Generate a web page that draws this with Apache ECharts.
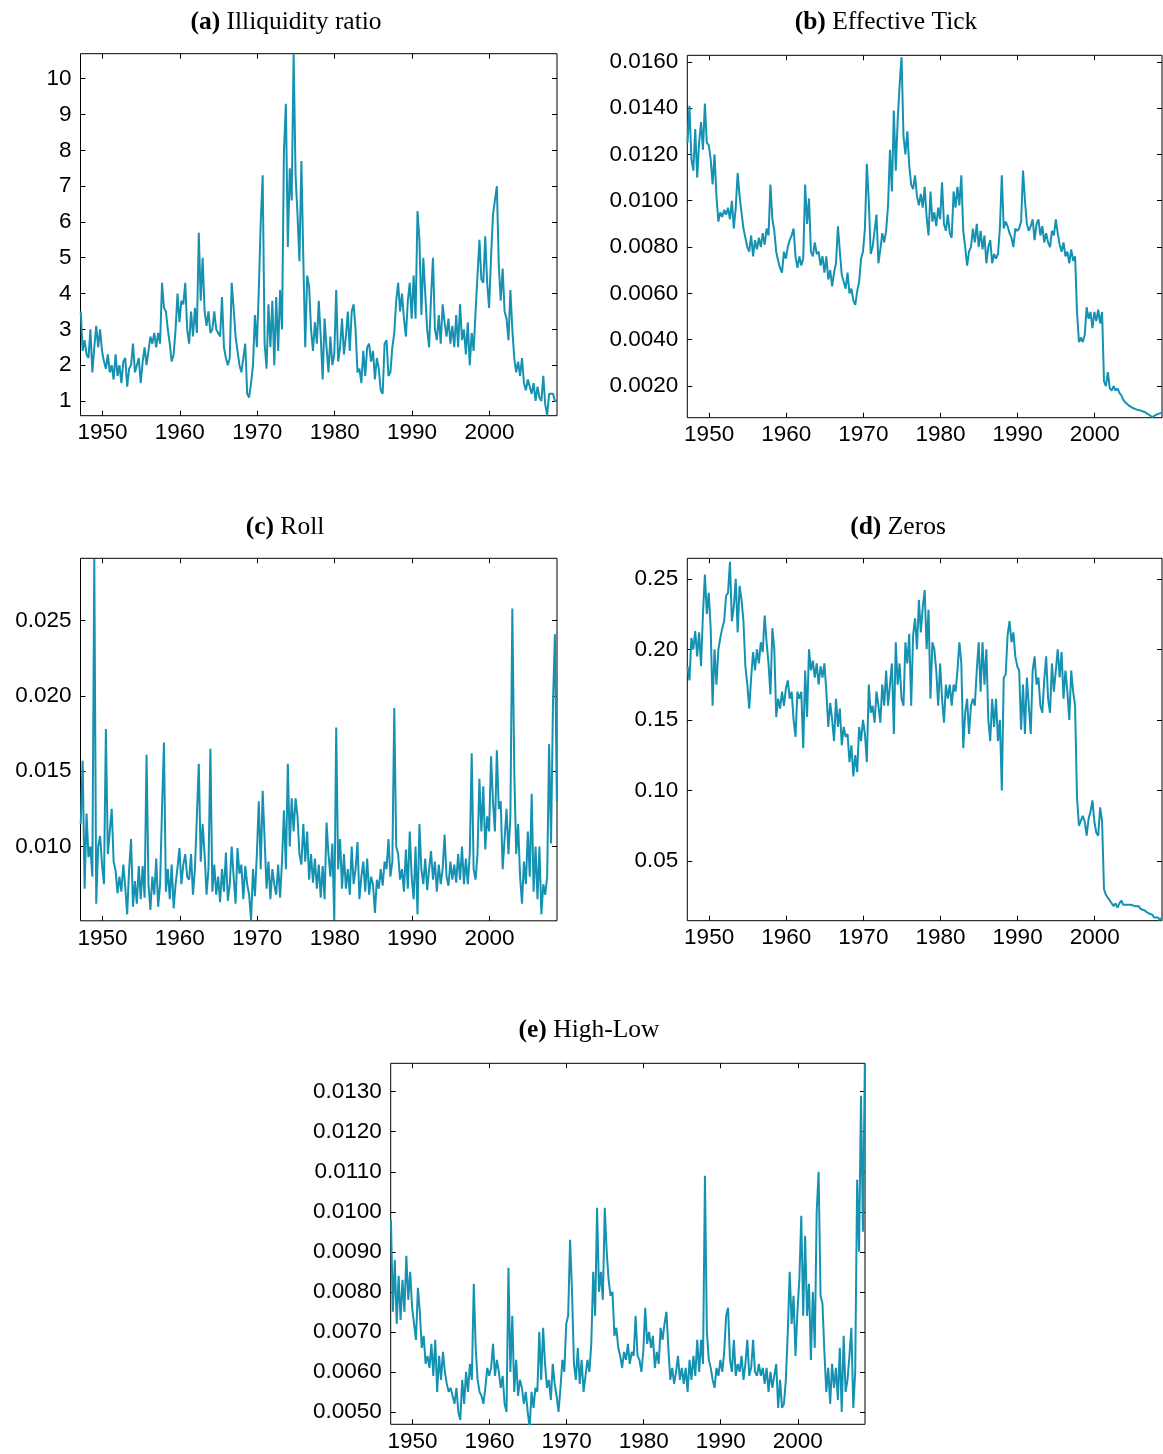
<!DOCTYPE html>
<html>
<head>
<meta charset="utf-8">
<script src="https://cdn.jsdelivr.net/npm/echarts@6/dist/echarts.min.js"></script>
<style>
html,body{margin:0;padding:0;background:#fff;}
#chart{width:1163px;height:1454px;}
</style>
</head>
<body>
<div id="chart"></div>
<script>
// Quarterly readings, first point at 1947.2, step 0.25 year (last 2008.7)
const START = 1947.2;
const STEP = 0.25;
const X_MIN = 1947.17;
const X_MAX = 2008.72;
const xTicks = [1950, 1960, 1970, 1980, 1990, 2000];

const titles = ['(a)|Illiquidity ratio', '(b)|Effective Tick', '(c)|Roll', '(d)|Zeros', '(e)|High-Low'];

const illiq = [
3.5,2.4,2.7,2.3, 2.2,3.0,1.8,2.5, 3.1,2.5,3.0,2.4, 2.1,1.9,2.3,1.8, 2.0,1.6,2.3,1.7,
2.0,1.5,2.1,2.2, 1.4,1.9,2.0,2.6, 1.8,2.0,2.2,1.5, 2.1,2.5,2.0,2.4, 2.8,2.6,2.9,2.5,
2.9,2.6,4.3,3.6, 3.5,3.0,2.6,2.1, 2.3,3.0,4.0,3.2, 3.8,3.7,4.3,3.0, 2.6,3.5,2.8,3.6,
2.9,5.7,3.8,5.0, 3.5,3.1,3.5,2.9, 3.0,3.5,3.0,2.9, 2.8,3.9,2.5,2.2, 2.0,2.2,4.3,3.6,
2.8,2.4,2.0,1.8, 2.2,2.6,1.2,1.1, 1.5,2.0,3.4,2.5, 4.1,6.0,7.3,2.6, 1.9,3.7,2.5,3.8,
2.0,3.9,2.4,4.1, 3.0,8.0,9.3,5.3, 7.5,6.6,10.7,7.3, 6.2,4.9,7.7,5.0, 2.5,4.5,4.2,3.0,
2.4,3.2,2.6,3.8, 2.8,1.6,3.3,2.5, 1.8,2.8,2.0,2.3, 4.1,2.1,2.5,3.3, 2.3,2.8,3.5,2.4,
3.5,3.7,3.0,1.8, 1.9,1.5,2.4,1.7, 2.5,2.6,2.1,2.4, 1.6,2.2,1.9,1.3, 1.2,2.6,2.7,1.7,
1.8,2.5,2.9,3.8, 4.3,3.5,4.0,3.3, 2.8,3.8,4.3,3.3, 4.5,3.3,6.3,5.5, 3.4,5.0,4.0,3.0,
2.5,3.9,5.0,3.0, 2.7,3.4,2.6,3.7, 3.2,2.8,3.3,2.6, 3.1,2.5,3.4,2.5, 3.7,2.7,3.0,2.3,
3.2,2.0,2.9,2.4, 3.5,4.5,5.5,4.4, 4.3,5.6,4.3,3.6, 5.0,6.2,6.6,7.0, 4.8,3.8,4.7,3.5,
3.3,2.7,4.1,3.0, 2.2,1.8,2.1,1.7, 2.2,1.5,1.3,1.6, 1.6,1.2,1.5,1.0, 1.4,1.1,1.0,1.7,
0.9,0.6,1.2,1.2, 1.2,1.0,1.0
];

const effTick = [
0.0125,0.0141,0.0118,0.0113, 0.0131,0.0110,0.0125,0.0134, 0.0122,0.0142,0.0125,0.0124,
0.0118,0.0107,0.0120,0.0102, 0.0091,0.0095,0.0093,0.0096, 0.0094,0.0097,0.0092,0.0100,
0.0088,0.0097,0.0112,0.0102, 0.0095,0.0088,0.0084,0.0080, 0.0078,0.0085,0.0076,0.0083,
0.0079,0.0084,0.0080,0.0086, 0.0081,0.0088,0.0085,0.0107, 0.0092,0.0087,0.0078,0.0074,
0.0071,0.0069,0.0078,0.0075, 0.0080,0.0083,0.0085,0.0088, 0.0076,0.0071,0.0076,0.0072,
0.0075,0.0107,0.0090,0.0101, 0.0078,0.0076,0.0082,0.0077, 0.0078,0.0072,0.0076,0.0069,
0.0076,0.0066,0.0070,0.0063, 0.0069,0.0073,0.0089,0.0078, 0.0068,0.0065,0.0062,0.0069,
0.0060,0.0062,0.0057,0.0055, 0.0061,0.0065,0.0075,0.0078, 0.0088,0.0116,0.0100,0.0077,
0.0080,0.0087,0.0094,0.0073, 0.0079,0.0086,0.0082,0.0087, 0.0098,0.0122,0.0104,0.0139,
0.0113,0.0135,0.0150,0.0162, 0.0128,0.0120,0.0130,0.0115, 0.0107,0.0105,0.0111,0.0102,
0.0098,0.0103,0.0097,0.0106, 0.0093,0.0085,0.0104,0.0091, 0.0095,0.0089,0.0097,0.0092,
0.0108,0.0090,0.0087,0.0094, 0.0086,0.0084,0.0104,0.0097, 0.0106,0.0098,0.0111,0.0087,
0.0080,0.0072,0.0078,0.0080, 0.0088,0.0082,0.0090,0.0080, 0.0087,0.0079,0.0085,0.0073,
0.0080,0.0083,0.0073,0.0077, 0.0075,0.0077,0.0088,0.0111, 0.0088,0.0091,0.0089,0.0086,
0.0084,0.0080,0.0088,0.0087, 0.0088,0.0091,0.0113,0.0100, 0.0090,0.0087,0.0089,0.0092,
0.0083,0.0090,0.0092,0.0085, 0.0089,0.0082,0.0086,0.0082, 0.0080,0.0087,0.0085,0.0092,
0.0086,0.0081,0.0078,0.0082, 0.0076,0.0078,0.0073,0.0079, 0.0074,0.0076,0.0052,0.0039,
0.0041,0.0039,0.0042,0.0054, 0.0049,0.0052,0.0045,0.0052, 0.0048,0.0053,0.0047,0.0052,
0.0022,0.0020,0.0026,0.0019, 0.0018,0.0020,0.0018,0.0019, 0.0017,0.0016,0.0014,0.0013,
0.00122,0.00115,0.0011,0.00105, 0.0010,0.00098,0.00096,0.00094, 0.00092,0.00088,0.00083,0.00078,
0.00072,0.00066,0.00068,0.00076, 0.0008,0.00082,0.00085
];

const roll = [
0.0115,0.0157,0.0072,0.0122, 0.0093,0.0100,0.0080,0.0291, 0.0062,0.0100,0.0107,0.0088,
0.0075,0.0178,0.0095,0.0110, 0.0125,0.0090,0.0084,0.0069, 0.0080,0.0070,0.0088,0.0073,
0.0055,0.0085,0.0105,0.0060, 0.0077,0.0062,0.0087,0.0065, 0.0087,0.0066,0.0161,0.0075,
0.0058,0.0080,0.0068,0.0092, 0.0060,0.0075,0.0125,0.0169, 0.0070,0.0085,0.0065,0.0088,
0.0059,0.0075,0.0086,0.0099, 0.0075,0.0088,0.0095,0.0080, 0.0078,0.0095,0.0068,0.0085,
0.0085,0.0155,0.0090,0.0115, 0.0095,0.0068,0.0085,0.0165, 0.0070,0.0088,0.0068,0.0080,
0.0063,0.0085,0.0070,0.0096, 0.0064,0.0075,0.0100,0.0080, 0.0062,0.0099,0.0082,0.0088,
0.0065,0.0087,0.0075,0.0068, 0.0051,0.0085,0.0067,0.0095, 0.0130,0.0085,0.0137,0.0105,
0.0072,0.0090,0.0065,0.0085, 0.0075,0.0068,0.0088,0.0066, 0.0090,0.0124,0.0085,0.0155,
0.0100,0.0132,0.0110,0.0132, 0.0120,0.0095,0.0088,0.0115, 0.0090,0.0110,0.0078,0.0095,
0.0076,0.0092,0.0072,0.0088, 0.0066,0.0087,0.0065,0.0116, 0.0095,0.0080,0.0102,0.0051,
0.0179,0.0085,0.0105,0.0072, 0.0095,0.0072,0.0085,0.0068, 0.0100,0.0075,0.0085,0.0103,
0.0065,0.0080,0.0090,0.0070, 0.0092,0.0068,0.0080,0.0075, 0.0056,0.0078,0.0072,0.0085,
0.0074,0.0090,0.0085,0.0105, 0.0080,0.0090,0.0192,0.0100, 0.0095,0.0078,0.0085,0.0070,
0.0098,0.0072,0.0110,0.0080, 0.0065,0.0100,0.0055,0.0115, 0.0085,0.0075,0.0092,0.0071,
0.0085,0.0097,0.0078,0.0090, 0.0070,0.0088,0.0075,0.0085, 0.0108,0.0080,0.0074,0.0090,
0.0078,0.0088,0.0076,0.0095, 0.0078,0.0100,0.0075,0.0092, 0.0075,0.0095,0.0162,0.0085,
0.0078,0.0095,0.0145,0.0110, 0.0140,0.0098,0.0120,0.0110, 0.0160,0.0130,0.0110,0.0164,
0.0125,0.0130,0.0085,0.0105, 0.0125,0.0095,0.0120,0.0258, 0.0150,0.0095,0.0115,0.0080,
0.0062,0.0090,0.0075,0.0110, 0.0080,0.0135,0.0070,0.0100, 0.0065,0.0100,0.0055,0.0075,
0.0068,0.0080,0.0168,0.0102, 0.0195,0.0241,0.0130
];

const zeros = [
0.188,0.178,0.208,0.200, 0.213,0.195,0.212,0.188, 0.225,0.253,0.225,0.240,
0.215,0.160,0.200,0.175, 0.200,0.208,0.215,0.220, 0.238,0.240,0.262,0.220,
0.230,0.250,0.212,0.245, 0.235,0.220,0.188,0.175, 0.158,0.180,0.198,0.185,
0.200,0.190,0.205,0.198, 0.224,0.205,0.190,0.168, 0.215,0.200,0.152,0.165,
0.158,0.170,0.160,0.172, 0.178,0.165,0.170,0.150, 0.138,0.170,0.165,0.170,
0.130,0.185,0.152,0.200, 0.185,0.192,0.180,0.190, 0.175,0.188,0.180,0.190,
0.170,0.145,0.162,0.150, 0.135,0.165,0.145,0.158, 0.132,0.145,0.138,0.140,
0.120,0.132,0.110,0.125, 0.113,0.145,0.135,0.150, 0.140,0.120,0.175,0.155,
0.160,0.148,0.170,0.160, 0.148,0.175,0.160,0.185, 0.160,0.175,0.190,0.140,
0.205,0.175,0.190,0.165, 0.160,0.205,0.190,0.211, 0.160,0.210,0.222,0.200,
0.235,0.212,0.230,0.242, 0.200,0.228,0.165,0.205, 0.200,0.185,0.160,0.190,
0.165,0.148,0.175,0.165, 0.175,0.160,0.175,0.170, 0.185,0.205,0.190,0.130,
0.155,0.165,0.140,0.160, 0.165,0.160,0.185,0.205, 0.170,0.205,0.175,0.200,
0.150,0.135,0.165,0.145, 0.165,0.135,0.150,0.100, 0.180,0.182,0.210,0.220,
0.205,0.212,0.195,0.188, 0.185,0.143,0.175,0.140, 0.180,0.160,0.140,0.185,
0.195,0.175,0.180,0.160, 0.155,0.178,0.195,0.165, 0.155,0.190,0.170,0.185,
0.200,0.180,0.198,0.165, 0.185,0.170,0.150,0.185, 0.170,0.160,0.095,0.075,
0.075,0.082,0.078,0.068, 0.080,0.085,0.093,0.078, 0.070,0.068,0.088,0.078,
0.030,0.026,0.024,0.022, 0.021,0.018,0.020,0.017, 0.020,0.022,0.019,0.020,
0.019,0.018,0.019,0.018, 0.018,0.017,0.018,0.016, 0.017,0.015,0.016,0.013,
0.014,0.012,0.010,0.009, 0.010,0.008,0.010
];

const highLow = [
0.0098,0.0075,0.0088,0.0072, 0.0084,0.0073,0.0083,0.0075, 0.0089,0.0078,0.0085,0.0076,
0.0072,0.0068,0.0081,0.0075, 0.0066,0.0069,0.0062,0.0064, 0.0061,0.0067,0.0059,0.0068,
0.0055,0.0064,0.0058,0.0065, 0.0060,0.0057,0.0055,0.0056, 0.0054,0.0052,0.0056,0.0050,
0.0048,0.0058,0.0052,0.0060, 0.0055,0.0062,0.0058,0.0082, 0.0066,0.0058,0.0055,0.0054,
0.0052,0.0056,0.0061,0.0059, 0.0061,0.0067,0.0059,0.0063, 0.0060,0.0056,0.0059,0.0052,
0.0050,0.0086,0.0060,0.0074, 0.0055,0.0063,0.0054,0.0058, 0.0056,0.0052,0.0055,0.0050,
0.0046,0.0055,0.0051,0.0056, 0.0055,0.0070,0.0058,0.0071, 0.0062,0.0056,0.0058,0.0053,
0.0062,0.0057,0.0054,0.0050, 0.0056,0.0063,0.0060,0.0072, 0.0074,0.0093,0.0080,0.0062,
0.0058,0.0066,0.0057,0.0063, 0.0055,0.0059,0.0063,0.0060, 0.0067,0.0085,0.0074,0.0101,
0.0080,0.0085,0.0078,0.0101, 0.0090,0.0083,0.0079,0.0080, 0.0069,0.0071,0.0066,0.0064,
0.0061,0.0065,0.0063,0.0067, 0.0062,0.0065,0.0064,0.0074, 0.0064,0.0063,0.0060,0.0065,
0.0076,0.0067,0.0070,0.0066, 0.0069,0.0061,0.0065,0.0062, 0.0071,0.0068,0.0072,0.0075,
0.0066,0.0058,0.0061,0.0057, 0.0060,0.0064,0.0058,0.0061, 0.0057,0.0061,0.0055,0.0063,
0.0058,0.0064,0.0059,0.0068, 0.0060,0.0068,0.0062,0.0109, 0.0070,0.0063,0.0061,0.0058,
0.0056,0.0061,0.0059,0.0063, 0.0060,0.0065,0.0074,0.0076, 0.0063,0.0060,0.0068,0.0059,
0.0062,0.0060,0.0064,0.0058, 0.0062,0.0068,0.0059,0.0061, 0.0068,0.0060,0.0059,0.0062,
0.0059,0.0061,0.0057,0.0061, 0.0055,0.0060,0.0056,0.0059, 0.0062,0.0051,0.0058,0.0051,
0.0052,0.0058,0.0070,0.0085, 0.0072,0.0079,0.0064,0.0075, 0.0083,0.0099,0.0074,0.0094,
0.0074,0.0082,0.0063,0.0080, 0.0066,0.0100,0.0110,0.0079, 0.0077,0.0065,0.0055,0.0061,
0.0052,0.0062,0.0056,0.0061, 0.0053,0.0066,0.0050,0.0069, 0.0055,0.0058,0.0064,0.0071,
0.0051,0.0060,0.0108,0.0090, 0.0129,0.0095,0.0137
];

const yTicksA = [1,2,3,4,5,6,7,8,9,10];
const yTicksB = [0.002,0.004,0.006,0.008,0.010,0.012,0.014,0.016];
const yTicksC = [0.010,0.015,0.020,0.025];
const yTicksD = [0.05,0.10,0.15,0.20,0.25];
const yTicksE = [0.005,0.006,0.007,0.008,0.009,0.010,0.011,0.012,0.013];

const panels = [
  {data: illiq,   yMin: 0.589,   yMax: 10.698,  ticks: yTicksA, dec: 0, rect: [80.5, 53.7, 476.5, 362], title: [286, 22]},
  {data: effTick, yMin: 0.000632,yMax: 0.01628, ticks: yTicksB, dec: 4, rect: [687.3, 55.3, 474.7, 362.4], title: [886, 22]},
  {data: roll,    yMin: 0.00507, yMax: 0.02914, ticks: yTicksC, dec: 3, rect: [80.5, 558.3, 476.5, 362.5], title: [285, 527]},
  {data: zeros,   yMin: 0.0077,  yMax: 0.2645,  ticks: yTicksD, dec: 2, rect: [687.3, 558.3, 474.7, 362.4], title: [898, 527]},
  {data: highLow, yMin: 0.00469, yMax: 0.01371, ticks: yTicksE, dec: 4, rect: [390.7, 1063.3, 474.3, 361], title: [589, 1030]}
];

const LINE_COLOR = '#1592b1';
const LABEL_FONT = {fontFamily: 'Liberation Sans, Arial, sans-serif', fontSize: 22.5, color: '#000'};

const grid = [], xAxis = [], yAxis = [], series = [], graphic = [];
panels.forEach((p, i) => {
  grid.push({left: p.rect[0], top: p.rect[1], width: p.rect[2], height: p.rect[3],
    show: true, borderColor: '#000', borderWidth: 1, backgroundColor: 'transparent', containLabel: false});
  const tickStyle = {inside: true, length: 5, lineStyle: {color: '#000', width: 1}};
  xAxis.push({type: 'value', gridIndex: i, position: 'bottom', min: X_MIN, max: X_MAX,
    axisLine: {show: false}, splitLine: {show: false},
    axisTick: Object.assign({customValues: xTicks}, tickStyle),
    axisLabel: Object.assign({customValues: xTicks, margin: 6, formatter: v => String(Math.round(v))}, LABEL_FONT)});
  xAxis.push({type: 'value', gridIndex: i, position: 'top', min: X_MIN, max: X_MAX,
    axisLine: {show: false}, splitLine: {show: false},
    axisTick: Object.assign({customValues: xTicks}, tickStyle),
    axisLabel: {show: false, customValues: xTicks}});
  yAxis.push({type: 'value', gridIndex: i, position: 'left', min: p.yMin, max: p.yMax,
    axisLine: {show: false}, splitLine: {show: false},
    axisTick: Object.assign({customValues: p.ticks}, tickStyle),
    axisLabel: Object.assign({customValues: p.ticks, margin: 9, formatter: v => v.toFixed(p.dec)}, LABEL_FONT)});
  yAxis.push({type: 'value', gridIndex: i, position: 'right', min: p.yMin, max: p.yMax,
    axisLine: {show: false}, splitLine: {show: false},
    axisTick: Object.assign({customValues: p.ticks}, tickStyle),
    axisLabel: {show: false, customValues: p.ticks}});
  series.push({type: 'line', xAxisIndex: i * 2, yAxisIndex: i * 2,
    data: p.data.map((v, k) => [START + k * STEP, v]),
    symbol: 'none', lineStyle: {color: LINE_COLOR, width: 2}, clip: true});
  const parts = titles[i].split('|');
  graphic.push({type: 'text', x: p.title[0], y: p.title[1], z: 10,
    style: {text: '{b|' + parts[0] + '} ' + parts[1], align: 'center', verticalAlign: 'middle',
      fontFamily: 'Liberation Serif, Times New Roman, serif', fontSize: 25.5, fill: '#000',
      rich: {b: {fontWeight: 'bold', fontFamily: 'Liberation Serif, Times New Roman, serif', fontSize: 25.5}}}});
});

const chart = echarts.init(document.getElementById('chart'), null, {renderer: 'canvas'});
chart.setOption({animation: false, backgroundColor: '#fff', grid, xAxis, yAxis, series, graphic});
</script>
</body>
</html>
